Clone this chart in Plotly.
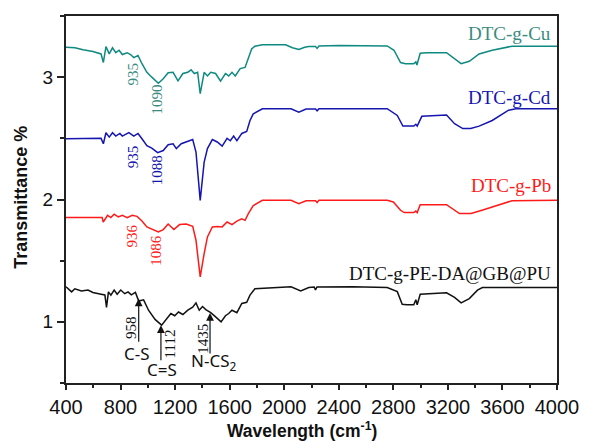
import plotly.graph_objects as go

# ---------------- data ----------------
cu_wn = [400, 465, 525, 597, 657, 674, 693, 717, 741, 765, 789, 813, 849, 873, 897, 928, 957, 993,
         1029, 1077, 1113, 1149, 1185, 1221, 1257, 1293, 1317, 1341, 1365, 1384, 1413, 1437, 1461,
         1497, 1533, 1569, 1593, 1617, 1641, 1677, 1713, 1737, 1761, 1785, 1840, 2010, 2060, 2107,
         2150, 2180, 2230, 2241, 2255, 2400, 2600, 2755, 2805, 2853, 2889, 2949, 2965, 2973, 2997,
         3045, 3190, 3237, 3297, 3357, 3429, 3525, 3645, 3670, 4000]
cu_t = [3.245, 3.24, 3.224, 3.21, 3.19, 3.12, 3.25, 3.19, 3.24, 3.2, 3.22, 3.185, 3.2, 3.185, 3.16,
        3.177, 3.11, 3.04, 3.0, 2.95, 2.987, 3.036, 3.04, 2.97, 3.03, 3.04, 3.06, 3.03, 3.04, 2.865,
        3.04, 3.01, 3.04, 3.03, 2.967, 3.03, 3.01, 3.04, 3.01, 3.07, 3.08, 3.15, 3.23, 3.253, 3.264,
        3.264, 3.24, 3.226, 3.245, 3.25, 3.25, 3.235, 3.255, 3.258, 3.258, 3.255, 3.22, 3.12, 3.11,
        3.11, 3.125, 3.10, 3.196, 3.2, 3.2, 3.16, 3.11, 3.13, 3.19, 3.22, 3.25, 3.253, 3.253]

cd_wn = [400, 500, 600, 657, 674, 693, 717, 741, 765, 795, 813, 861, 897, 928, 957, 993, 1029, 1072,
         1113, 1149, 1185, 1209, 1245, 1281, 1329, 1353, 1384, 1413, 1437, 1473, 1509, 1545, 1581,
         1605, 1629, 1653, 1689, 1725, 1749, 1773, 1840, 2050, 2107, 2160, 2230, 2241, 2255, 2500,
         2755, 2829, 2870, 2950, 2965, 2975, 3009, 3190, 3249, 3309, 3367, 3429, 3525, 3645, 3700, 4000]
cd_t = [2.497, 2.50, 2.497, 2.50, 2.456, 2.546, 2.51, 2.546, 2.518, 2.54, 2.518, 2.546, 2.518, 2.54,
        2.497, 2.44, 2.42, 2.383, 2.40, 2.448, 2.456, 2.416, 2.456, 2.47, 2.49, 2.388, 1.993, 2.306,
        2.416, 2.49, 2.47, 2.437, 2.50, 2.48, 2.518, 2.48, 2.54, 2.556, 2.646, 2.70, 2.742, 2.742,
        2.714, 2.74, 2.74, 2.725, 2.742, 2.742, 2.742, 2.687, 2.60, 2.60, 2.615, 2.60, 2.68, 2.69,
        2.62, 2.58, 2.58, 2.60, 2.646, 2.73, 2.742, 2.742]

pb_wn = [400, 500, 600, 665, 673, 705, 729, 753, 783, 813, 849, 885, 921, 957, 993, 1041, 1077, 1113,
         1149, 1191, 1233, 1281, 1329, 1353, 1384, 1413, 1437, 1473, 1509, 1545, 1581, 1617, 1653,
         1689, 1713, 1737, 1773, 1840, 2050, 2107, 2160, 2230, 2241, 2255, 2500, 2755, 2800, 2853,
         2880, 2950, 2965, 2975, 2997, 3190, 3285, 3370, 3450, 3573, 3670, 4000]
pb_t = [1.852, 1.85, 1.852, 1.852, 1.816, 1.871, 1.852, 1.88, 1.857, 1.871, 1.852, 1.871, 1.862,
        1.824, 1.776, 1.754, 1.735, 1.754, 1.80, 1.754, 1.795, 1.80, 1.78, 1.667, 1.367, 1.558,
        1.694, 1.776, 1.78, 1.776, 1.816, 1.795, 1.824, 1.843, 1.83, 1.885, 1.95, 1.993, 1.993,
        1.966, 1.99, 1.99, 1.975, 1.993, 1.993, 1.993, 1.98, 1.912, 1.893, 1.893, 1.905, 1.893,
        1.958, 1.958, 1.885, 1.885, 1.912, 1.953, 1.99, 1.993]

pu_wn = [400, 441, 465, 513, 561, 597, 657, 685, 697, 711, 729, 753, 775, 801, 831, 855, 879, 909,
         933, 969, 1005, 1053, 1101, 1137, 1169, 1197, 1225, 1257, 1293, 1329, 1353, 1377, 1401,
         1425, 1461, 1497, 1537, 1569, 1593, 1617, 1653, 1689, 1725, 1749, 1785, 2050, 2121, 2180,
         2220, 2229, 2240, 2500, 2755, 2829, 2865, 2900, 2950, 2965, 2975, 2997, 3190, 3249, 3297,
         3357, 3417, 3453, 4000]
pu_t = [1.286, 1.245, 1.27, 1.253, 1.26, 1.24, 1.226, 1.22, 1.118, 1.245, 1.218, 1.26, 1.226, 1.26,
        1.23, 1.245, 1.22, 1.24, 1.17, 1.18, 1.095, 1.02, 0.973, 1.02, 1.068, 1.05, 1.08, 1.06,
        1.095, 1.12, 1.155, 1.095, 1.125, 1.10, 1.075, 1.04, 1.0, 1.05, 1.068, 1.095, 1.075, 1.15,
        1.16, 1.218, 1.27, 1.286, 1.253, 1.28, 1.285, 1.26, 1.285, 1.286, 1.28, 1.247, 1.144, 1.14,
        1.14, 1.18, 1.14, 1.226, 1.237, 1.2, 1.155, 1.19, 1.259, 1.28, 1.28]

series_names = ["DTC-g-Cu", "DTC-g-Cd", "DTC-g-Pb", "DTC-g-PE-DA@GB@PU"]
series_colors = ["#0f8a80", "#1515b0", "#ff1a1a", "#111111"]
label_colors = ["#3a8c80", "#1515b0", "#ff1a1a", "#111111"]
label_y = [3.359, 2.837, 2.116, 1.395]
label_x = 3969

# peak labels: (text, x, y, series index)
peak_text = ["935", "1090", "935", "1088", "936", "1086", "958", "1112", "1435"]
peak_x = [890, 1070, 890, 1065, 880, 1055, 880, 1165, 1406]
peak_y = [3.028, 2.820, 2.353, 2.236, 1.702, 1.583, 0.954, 0.818, 0.864]
peak_series = [0, 0, 1, 1, 2, 2, 3, 3, 3]

# bond assignments
bond_text = ["C-S", "C=S", "N-CS<sub>2</sub>"]
bond_x = [920, 1106, 1478]
bond_y = [0.742, 0.614, 0.672]
arrow_x = [933, 1096, 1456]
arrow_tip = [1.191, 0.973, 1.073]
arrow_tail = [0.824, 0.673, 0.728]

x_ticks = [400, 800, 1200, 1600, 2000, 2400, 2800, 3200, 3600, 4000]
y_ticks = [1, 2, 3]

# ---------------- figure ----------------
fig = go.Figure()
for wn, t, c in zip([cu_wn, cd_wn, pb_wn, pu_wn], [cu_t, cd_t, pb_t, pu_t], series_colors):
    fig.add_trace(go.Scatter(x=wn, y=t, mode="lines", line=dict(color=c, width=1.5),
                             showlegend=False, hoverinfo="skip"))

ann = []
for name, col, yy in zip(series_names, label_colors, label_y):
    ann.append(dict(x=label_x, y=yy, xref="x", yref="y", text=name, showarrow=False,
                    xanchor="right", yanchor="middle",
                    font=dict(family="Liberation Serif", size=19, color=col)))
for txt, xx, yy, si in zip(peak_text, peak_x, peak_y, peak_series):
    ann.append(dict(x=xx, y=yy, xref="x", yref="y", text=txt, showarrow=False, textangle=-90,
                    xanchor="center", yanchor="middle",
                    font=dict(family="Liberation Serif", size=15, color=label_colors[si])))
for txt, xx, yy in zip(bond_text, bond_x, bond_y):
    ann.append(dict(x=xx, y=yy, xref="x", yref="y", text=txt, showarrow=False,
                    xanchor="center", yanchor="middle",
                    font=dict(family="Noto Sans", size=17, color="#111111")))
for xx, tip, tail in zip(arrow_x, arrow_tip, arrow_tail):
    ann.append(dict(x=xx, y=tip, ax=xx, ay=tail, xref="x", yref="y", axref="x", ayref="y",
                    text="", showarrow=True, arrowhead=2, arrowsize=1.3, arrowwidth=1.2,
                    arrowcolor="#111111", standoff=0))
ann.append(dict(x=-0.092, y=0.507, xref="paper", yref="paper", text="Transmittance %",
                showarrow=False, textangle=-90, xanchor="center", yanchor="middle",
                font=dict(family="Liberation Sans", size=18, color="#111111", weight="bold")))
ann.append(dict(x=0.48, y=-0.128, xref="paper", yref="paper", text="Wavelength (cm<sup>-1</sup>)",
                showarrow=False, xanchor="center", yanchor="middle",
                font=dict(family="Liberation Sans", size=17.5, color="#111111", weight="bold")))

fig.update_layout(
    width=591, height=442,
    margin=dict(l=66, r=25, t=16, b=59),
    paper_bgcolor="white", plot_bgcolor="white",
    annotations=ann,
    xaxis=dict(range=[400, 4000], tickvals=x_ticks, ticks="outside", ticklen=5, tickwidth=1.5,
               tickcolor="#222222", showline=True, mirror=True, linewidth=2, linecolor="#222222",
               showgrid=False, zeroline=False,
               tickfont=dict(family="Liberation Sans", size=20, color="#111111"),
               minor=dict(tick0=400, dtick=200, ticks="outside", ticklen=3, tickwidth=1.5,
                          tickcolor="#222222", showgrid=False)),
    yaxis=dict(range=[0.5, 3.5], tickvals=y_ticks, ticks="outside", ticklen=7, tickwidth=1.5,
               tickcolor="#222222", showline=True, mirror=True, linewidth=2, linecolor="#222222",
               showgrid=False, zeroline=False,
               tickfont=dict(family="Liberation Sans", size=19, color="#111111"),
               minor=dict(tick0=0.5, dtick=0.5, ticks="outside", ticklen=4, tickwidth=1.5,
                          tickcolor="#222222", showgrid=False)),
)

fig.write_html("out.html")
